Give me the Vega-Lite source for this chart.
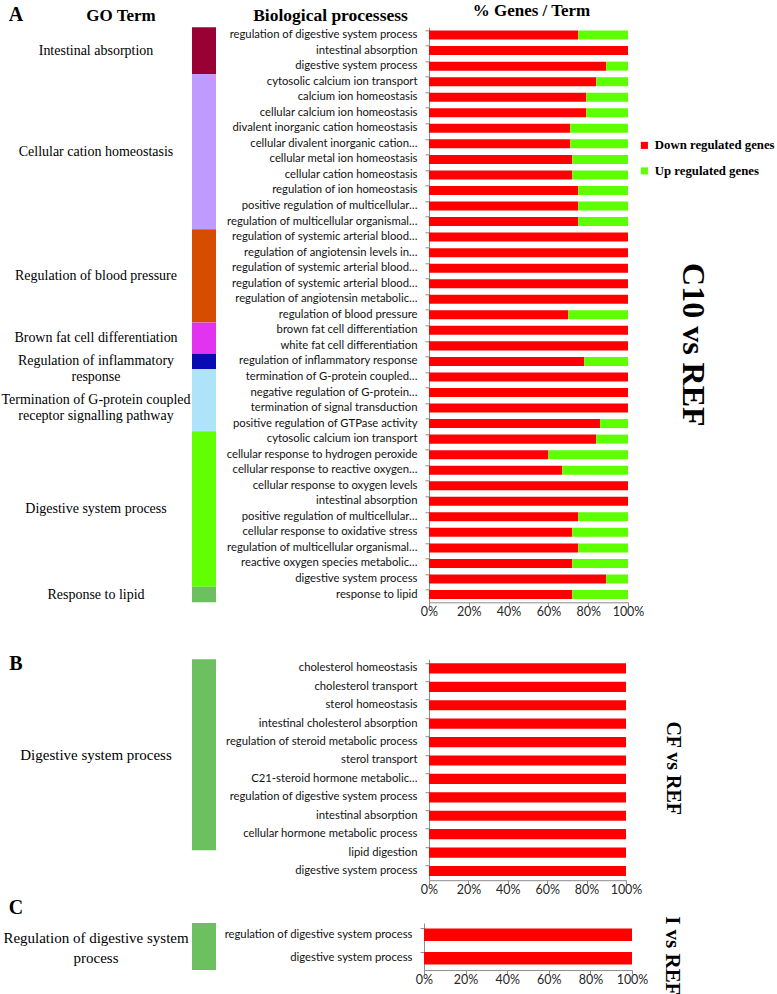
{
  "$schema": "https://vega.github.io/schema/vega-lite/v6.json",
  "padding": {"left": 0, "top": 1.3, "right": 0, "bottom": 0},
  "background": "white",
  "spacing": 34.9,
  "config": {
    "view": {"stroke": null},
    "axis": {"domainColor": "#8c8c8c", "tickColor": "#8c8c8c", "grid": false, "titleColor": "black", "titleFont": "Liberation Serif", "titleFontWeight": "bold", "titleAngle": 0, "titleAlign": "center", "titleBaseline": "alphabetic"},
    "axisX": {"labelFlush": false, "labelOverlap": false, "labelBound": false, "tickCount": 6}
  },
  "datasets": {
    "A": [
      {"group": "Intestinal absorption", "term": "regulation of digestive system process", "down": 75, "up": 25},
      {"group": "Intestinal absorption", "term": "intestinal absorption", "down": 100, "up": 0},
      {"group": "Intestinal absorption", "term": "digestive system process", "down": 89, "up": 11},
      {"group": "Cellular cation homeostasis", "term": "cytosolic calcium ion transport", "down": 84, "up": 16},
      {"group": "Cellular cation homeostasis", "term": "calcium ion homeostasis", "down": 79, "up": 21},
      {"group": "Cellular cation homeostasis", "term": "cellular calcium ion homeostasis", "down": 79, "up": 21},
      {"group": "Cellular cation homeostasis", "term": "divalent inorganic cation homeostasis", "down": 71, "up": 29},
      {"group": "Cellular cation homeostasis", "term": "cellular divalent inorganic cation…", "down": 71, "up": 29},
      {"group": "Cellular cation homeostasis", "term": "cellular metal ion homeostasis", "down": 72, "up": 28},
      {"group": "Cellular cation homeostasis", "term": "cellular cation homeostasis", "down": 72, "up": 28},
      {"group": "Cellular cation homeostasis", "term": "regulation of ion homeostasis", "down": 75, "up": 25},
      {"group": "Cellular cation homeostasis", "term": "positive regulation of multicellular…", "down": 75, "up": 25},
      {"group": "Cellular cation homeostasis", "term": "regulation of multicellular organismal…", "down": 75, "up": 25},
      {"group": "Regulation of blood pressure", "term": "regulation of systemic arterial blood…", "down": 100, "up": 0},
      {"group": "Regulation of blood pressure", "term": "regulation of angiotensin levels in…", "down": 100, "up": 0},
      {"group": "Regulation of blood pressure", "term": "regulation of systemic arterial blood…", "down": 100, "up": 0},
      {"group": "Regulation of blood pressure", "term": "regulation of systemic arterial blood…", "down": 100, "up": 0},
      {"group": "Regulation of blood pressure", "term": "regulation of angiotensin metabolic…", "down": 100, "up": 0},
      {"group": "Regulation of blood pressure", "term": "regulation of blood pressure", "down": 70, "up": 30},
      {"group": "Brown fat cell differentiation", "term": "brown fat cell differentiation", "down": 100, "up": 0},
      {"group": "Brown fat cell differentiation", "term": "white fat cell differentiation", "down": 100, "up": 0},
      {"group": "Regulation of inflammatory\nresponse", "term": "regulation of inflammatory response", "down": 78, "up": 22},
      {"group": "Termination of G-protein coupled\nreceptor signalling pathway", "term": "termination of G-protein coupled…", "down": 100, "up": 0},
      {"group": "Termination of G-protein coupled\nreceptor signalling pathway", "term": "negative regulation of G-protein…", "down": 100, "up": 0},
      {"group": "Termination of G-protein coupled\nreceptor signalling pathway", "term": "termination of signal transduction", "down": 100, "up": 0},
      {"group": "Termination of G-protein coupled\nreceptor signalling pathway", "term": "positive regulation of GTPase activity", "down": 86, "up": 14},
      {"group": "Digestive system process", "term": "cytosolic calcium ion transport", "down": 84, "up": 16},
      {"group": "Digestive system process", "term": "cellular response to hydrogen peroxide", "down": 60, "up": 40},
      {"group": "Digestive system process", "term": "cellular response to reactive oxygen…", "down": 67, "up": 33},
      {"group": "Digestive system process", "term": "cellular response to oxygen levels", "down": 100, "up": 0},
      {"group": "Digestive system process", "term": "intestinal absorption", "down": 100, "up": 0},
      {"group": "Digestive system process", "term": "positive regulation of multicellular…", "down": 75, "up": 25},
      {"group": "Digestive system process", "term": "cellular response to oxidative stress", "down": 72, "up": 28},
      {"group": "Digestive system process", "term": "regulation of multicellular organismal…", "down": 75, "up": 25},
      {"group": "Digestive system process", "term": "reactive oxygen species metabolic…", "down": 72, "up": 28},
      {"group": "Digestive system process", "term": "digestive system process", "down": 89, "up": 11},
      {"group": "Response to lipid", "term": "response to lipid", "down": 72, "up": 28}
    ],
    "B": [
      {"group": "Digestive system process", "term": "cholesterol homeostasis", "down": 100, "up": 0},
      {"group": "Digestive system process", "term": "cholesterol transport", "down": 100, "up": 0},
      {"group": "Digestive system process", "term": "sterol homeostasis", "down": 100, "up": 0},
      {"group": "Digestive system process", "term": "intestinal cholesterol absorption", "down": 100, "up": 0},
      {"group": "Digestive system process", "term": "regulation of steroid metabolic process", "down": 100, "up": 0},
      {"group": "Digestive system process", "term": "sterol transport", "down": 100, "up": 0},
      {"group": "Digestive system process", "term": "C21-steroid hormone metabolic…", "down": 100, "up": 0},
      {"group": "Digestive system process", "term": "regulation of digestive system process", "down": 100, "up": 0},
      {"group": "Digestive system process", "term": "intestinal absorption", "down": 100, "up": 0},
      {"group": "Digestive system process", "term": "cellular hormone metabolic process", "down": 100, "up": 0},
      {"group": "Digestive system process", "term": "lipid digestion", "down": 100, "up": 0},
      {"group": "Digestive system process", "term": "digestive system process", "down": 100, "up": 0}
    ],
    "C": [
      {"group": "Regulation of digestive system\nprocess", "term": "regulation of digestive system process", "down": 100, "up": 0},
      {"group": "Regulation of digestive system\nprocess", "term": "digestive system process", "down": 100, "up": 0}
    ]
  },
  "resolve": {"scale": {"fill": "independent"}},
  "vconcat": [
    {
      "title": {"text": "C10 vs REF", "orient": "right", "anchor": "middle", "font": "Liberation Serif", "fontSize": 32, "fontWeight": "bold", "color": "black", "offset": 32, "dx": 35},
      "spacing": 0,
      "hconcat": [
        {
          "width": 192, "height": 575,
          "data": {"name": "A"},
          "transform": [
            {"window": [{"op": "row_number", "as": "i"}]},
            {"aggregate": [{"op": "mean", "field": "i", "as": "mid"}], "groupby": ["group"]}
          ],
          "mark": {"type": "text", "font": "Liberation Serif", "fontSize": 14, "lineBreak": "\n", "lineHeight": 16, "baseline": "middle", "align": "center", "color": "black"},
          "encoding": {
            "x": {"datum": "GO Term", "type": "nominal",
              "axis": {"orient": "top", "title": "GO Term", "titleX": 120.5, "titleY": -7, "titleFontSize": 17, "labels": false, "ticks": false, "domain": false}},
            "y": {"field": "mid", "type": "quantitative", "scale": {"domain": [0.5, 37.5], "reverse": true, "nice": false, "zero": false},
              "axis": {"title": "A", "titleX": 15.5, "titleY": -7, "titleFontSize": 20, "labels": false, "ticks": false, "domain": false, "minExtent": 0, "maxExtent": 0}},
            "text": {"field": "group", "type": "nominal"}
          }
        },
        {
          "width": 24, "height": 575,
          "data": {"name": "A"},
          "transform": [
            {"window": [{"op": "row_number", "as": "i"}]},
            {"aggregate": [{"op": "count", "as": "n"}, {"op": "min", "field": "i", "as": "first"}], "groupby": ["group"]},
            {"stack": "n", "groupby": [], "sort": [{"field": "first", "order": "ascending"}], "as": ["y0", "y1"]}
          ],
          "mark": {"type": "rect"},
          "encoding": {
            "y": {"field": "y0", "type": "quantitative", "axis": null, "scale": {"domain": [0, 37], "reverse": true, "nice": false, "zero": false}},
            "y2": {"field": "y1"},
            "x": {"value": 0},
            "x2": {"value": "width"},
            "fill": {"field": "group", "type": "nominal", "legend": null,
              "scale": {"domain": ["Intestinal absorption", "Cellular cation homeostasis", "Regulation of blood pressure", "Brown fat cell differentiation", "Regulation of inflammatory\nresponse", "Termination of G-protein coupled\nreceptor signalling pathway", "Digestive system process", "Response to lipid"],
                "range": ["#990033", "#BF9BFF", "#D64D00", "#E233F0", "#0A0AB4", "#AEE3FA", "#62FF00", "#6CC05F"]}}
          }
        },
        {
          "width": 199, "height": 575,
          "data": {"name": "A"},
          "transform": [{"window": [{"op": "row_number", "as": "i"}]}],
          "encoding": {
            "y": {"field": "i", "type": "ordinal", "scale": {"paddingInner": 0.42, "paddingOuter": 0.21},
              "axis": {"title": "Biological processess", "titleX": -99, "titleY": -7, "titleFontSize": 17.5, "labels": false, "ticks": true, "tickSize": 4, "bandPosition": 0, "minExtent": 213, "maxExtent": 213}}
          },
          "layer": [
            {
              "transform": [{"fold": ["down", "up"], "as": ["regulation", "pct"]}],
              "mark": {"type": "bar"},
              "encoding": {
                "x": {"field": "pct", "type": "quantitative", "stack": "normalize", "scale": {"domain": [0, 1]},
                  "axis": {"title": "% Genes / Term", "titleX": 102, "titleY": -586.5, "titleFontSize": 17, "values": [0, 0.2, 0.4, 0.6, 0.8, 1], "tickCount": 6, "format": ".0%", "labelFlush": false, "labelOverlap": false, "tickSize": 4, "labelPadding": -1, "labelFont": "Lato", "labelFontSize": 12.5, "labelColor": "#262626"}},
                "color": {"field": "regulation", "type": "nominal", "scale": {"domain": ["down", "up"], "range": ["#FF0000", "#5EFF00"]},
                  "legend": {"orient": "none", "legendX": 638, "legendY": 111.7, "title": null, "labelExpr": "datum.label == 'down' ? 'Down regulated genes' : 'Up regulated genes'", "symbolType": "square", "symbolSize": 50, "symbolStrokeWidth": 0, "labelFont": "Liberation Serif", "labelFontSize": 12.8, "labelFontWeight": "bold", "labelColor": "black", "rowPadding": 11.5, "labelOffset": 4}}
              }
            },
            {
              "mark": {"type": "text", "align": "right", "baseline": "middle", "dx": -11.5, "font": "Lato", "fontSize": 11.3, "color": "#111111"},
              "encoding": {"x": {"datum": 0, "type": "quantitative"}, "text": {"field": "term", "type": "nominal"}}
            }
          ]
        }
      ]
    },
    {
      "spacing": 0.85,
      "resolve": {"scale": {"fill": "independent"}},
      "vconcat": [
        {
          "title": {"text": "CF vs REF", "orient": "right", "anchor": "middle", "font": "Liberation Serif", "fontSize": 20, "fontWeight": "bold", "color": "black", "offset": 21, "dx": -6.5},
          "spacing": 0,
          "hconcat": [
            {
              "width": 192, "height": 191,
              "data": {"name": "B"},
              "transform": [
                {"window": [{"op": "row_number", "as": "i"}]},
                {"aggregate": [{"op": "mean", "field": "i", "as": "mid"}], "groupby": ["group"]}
              ],
              "mark": {"type": "text", "font": "Liberation Serif", "fontSize": 15, "lineBreak": "\n", "lineHeight": 18, "baseline": "middle", "align": "center", "color": "black"},
              "encoding": {
                "y": {"field": "mid", "type": "quantitative", "scale": {"domain": [0.5, 12.5], "reverse": true, "nice": false, "zero": false},
                  "axis": {"title": "B", "titleX": 15.5, "titleY": 10.5, "titleFontSize": 20, "labels": false, "ticks": false, "domain": false, "minExtent": 0, "maxExtent": 0}},
                "text": {"field": "group", "type": "nominal"}
              }
            },
            {
              "width": 24, "height": 191,
              "data": {"name": "B"},
              "transform": [
                {"window": [{"op": "row_number", "as": "i"}]},
                {"aggregate": [{"op": "count", "as": "n"}, {"op": "min", "field": "i", "as": "first"}], "groupby": ["group"]},
                {"stack": "n", "groupby": [], "sort": [{"field": "first", "order": "ascending"}], "as": ["y0", "y1"]}
              ],
              "mark": {"type": "rect"},
              "encoding": {
                "y": {"field": "y0", "type": "quantitative", "axis": null, "scale": {"domain": [0, 12], "reverse": true, "nice": false, "zero": false}},
                "y2": {"field": "y1"},
                "x": {"value": 0},
                "x2": {"value": "width"},
                "fill": {"field": "group", "type": "nominal", "legend": null, "scale": {"domain": ["Digestive system process"], "range": ["#6CC05F"]}}
              }
            },
            {
              "width": 197, "height": 221,
              "data": {"name": "B"},
              "transform": [{"window": [{"op": "row_number", "as": "i"}]}],
              "encoding": {
                "y": {"field": "i", "type": "ordinal", "scale": {"paddingInner": 0.45, "paddingOuter": 0.225},
                  "axis": {"title": null, "labels": false, "ticks": true, "tickSize": 4, "bandPosition": 0, "minExtent": 213, "maxExtent": 213}}
              },
              "layer": [
                {
                  "transform": [{"fold": ["down", "up"], "as": ["regulation", "pct"]}],
                  "mark": {"type": "bar"},
                  "encoding": {
                    "x": {"field": "pct", "type": "quantitative", "stack": "normalize", "title": null, "scale": {"domain": [0, 1]},
                      "axis": {"values": [0, 0.2, 0.4, 0.6, 0.8, 1], "tickCount": 6, "format": ".0%", "labelFlush": false, "labelOverlap": false, "tickSize": 4, "labelPadding": -1, "labelFont": "Lato", "labelFontSize": 12.5, "labelColor": "#262626"}},
                    "color": {"field": "regulation", "type": "nominal"}
                  }
                },
                {
                  "mark": {"type": "text", "align": "right", "baseline": "middle", "dx": -11.5, "font": "Lato", "fontSize": 11.3, "color": "#111111"},
                  "encoding": {"x": {"datum": 0, "type": "quantitative"}, "text": {"field": "term", "type": "nominal"}}
                }
              ]
            }
          ]
        },
        {
          "title": {"text": "I vs REF", "orient": "right", "anchor": "middle", "font": "Liberation Serif", "fontSize": 21, "fontWeight": "bold", "color": "black", "offset": 14.5, "dx": 14.5},
          "spacing": 0,
          "hconcat": [
            {
              "width": 192, "height": 47,
              "data": {"name": "C"},
              "transform": [
                {"window": [{"op": "row_number", "as": "i"}]},
                {"aggregate": [{"op": "mean", "field": "i", "as": "mid"}], "groupby": ["group"]}
              ],
              "mark": {"type": "text", "font": "Liberation Serif", "fontSize": 15, "lineBreak": "\n", "lineHeight": 20, "baseline": "middle", "align": "center", "dy": -9, "color": "black"},
              "encoding": {
                "y": {"field": "mid", "type": "quantitative", "scale": {"domain": [0.5, 2.5], "reverse": true, "nice": false, "zero": false},
                  "axis": {"title": "C", "titleX": 15.5, "titleY": -10, "titleFontSize": 20, "labels": false, "ticks": false, "domain": false, "minExtent": 0, "maxExtent": 0}},
                "text": {"field": "group", "type": "nominal"}
              }
            },
            {
              "width": 24, "height": 47,
              "data": {"name": "C"},
              "transform": [
                {"window": [{"op": "row_number", "as": "i"}]},
                {"aggregate": [{"op": "count", "as": "n"}, {"op": "min", "field": "i", "as": "first"}], "groupby": ["group"]},
                {"stack": "n", "groupby": [], "sort": [{"field": "first", "order": "ascending"}], "as": ["y0", "y1"]}
              ],
              "mark": {"type": "rect"},
              "encoding": {
                "y": {"field": "y0", "type": "quantitative", "axis": null, "scale": {"domain": [0, 2], "reverse": true, "nice": false, "zero": false}},
                "y2": {"field": "y1"},
                "x": {"value": 0},
                "x2": {"value": "width"},
                "fill": {"field": "group", "type": "nominal", "legend": null, "scale": {"domain": ["Regulation of digestive system\nprocess"], "range": ["#6CC05F"]}}
              }
            },
            {
              "width": 208, "height": 47,
              "data": {"name": "C"},
              "transform": [{"window": [{"op": "row_number", "as": "i"}]}],
              "encoding": {
                "y": {"field": "i", "type": "ordinal", "scale": {"paddingInner": 0.47, "paddingOuter": 0.235},
                  "axis": {"title": null, "labels": false, "ticks": true, "tickSize": 4, "bandPosition": 0, "minExtent": 208, "maxExtent": 208}}
              },
              "layer": [
                {
                  "transform": [{"fold": ["down", "up"], "as": ["regulation", "pct"]}],
                  "mark": {"type": "bar"},
                  "encoding": {
                    "x": {"field": "pct", "type": "quantitative", "stack": "normalize", "title": null, "scale": {"domain": [0, 1]},
                      "axis": {"values": [0, 0.2, 0.4, 0.6, 0.8, 1], "tickCount": 6, "format": ".0%", "labelFlush": false, "labelOverlap": false, "tickSize": 4, "labelPadding": -1, "labelFont": "Lato", "labelFontSize": 12.5, "labelColor": "#262626"}},
                    "color": {"field": "regulation", "type": "nominal"}
                  }
                },
                {
                  "mark": {"type": "text", "align": "right", "baseline": "middle", "dx": -11.5, "font": "Lato", "fontSize": 11.3, "color": "#111111"},
                  "encoding": {"x": {"datum": 0, "type": "quantitative"}, "text": {"field": "term", "type": "nominal"}}
                }
              ]
            }
          ]
        }
      ]
    }
  ]
}
